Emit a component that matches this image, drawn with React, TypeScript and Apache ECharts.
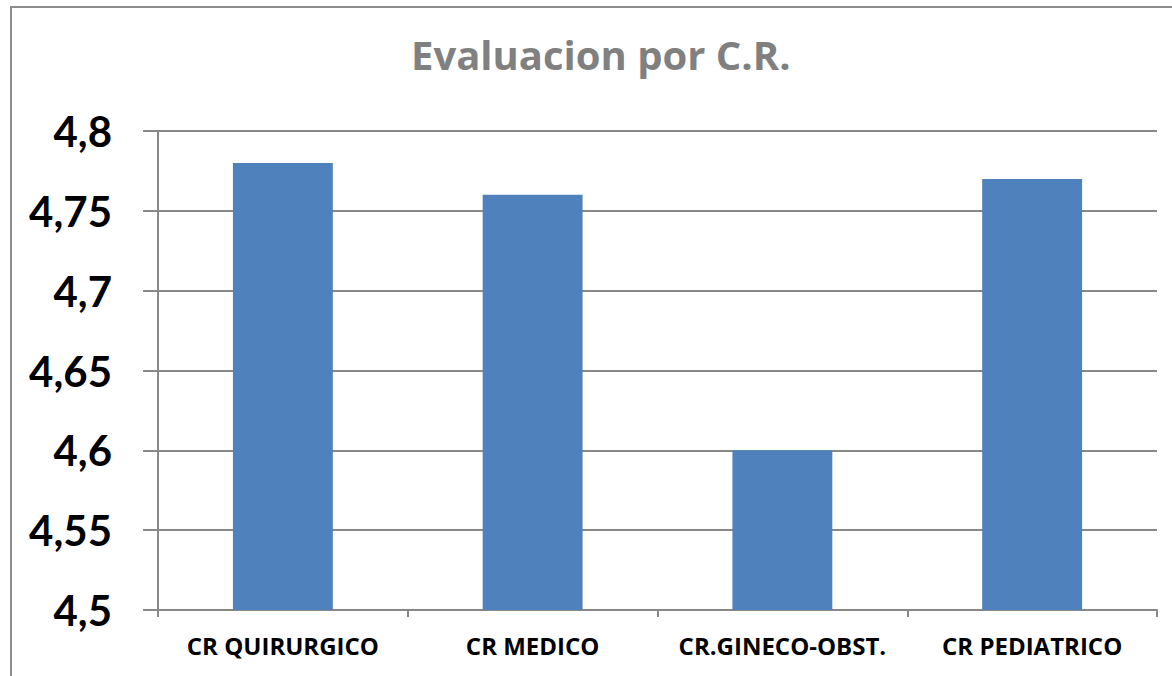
import React, { useEffect, useRef } from "react";
import * as echarts from "echarts";

const categories = ["CR QUIRURGICO", "CR MEDICO", "CR.GINECO-OBST.", "CR PEDIATRICO"];
const values = [4.78, 4.76, 4.6, 4.77];
const titleText = "Evaluacion por C.R.";

export default function App() {
  const ref = useRef<HTMLDivElement>(null);
  useEffect(() => {
    const chart = echarts.init(ref.current!, null, { renderer: "svg" });
    chart.setOption({
      animation: false,
      backgroundColor: "#ffffff",
      title: {
        text: titleText,
        left: 406,
        top: 29,
        textStyle: { fontFamily: "Open Sans", fontWeight: "bold", fontSize: 40, color: "#808080" },
      },
      graphic: [
        {
          type: "rect",
          shape: { x: 11, y: 7, width: 1200, height: 700 },
          style: { fill: "none", stroke: "#8c8c8c", lineWidth: 2 },
          silent: true,
        },
      ],
      grid: { left: 158, right: 15, top: 131, bottom: 66, containLabel: false },
      xAxis: {
        type: "category",
        data: categories,
        axisLine: { lineStyle: { color: "#888888", width: 2 } },
        axisTick: { show: true, length: 7, lineStyle: { color: "#888888", width: 2 } },
        axisLabel: {
          margin: 23,
          fontFamily: "Open Sans",
          fontWeight: "bold",
          fontSize: 24,
          color: "#000000",
          interval: 0,
        },
      },
      yAxis: {
        type: "value",
        min: 4.5,
        max: 4.8,
        interval: 0.05,
        axisLine: { show: true, lineStyle: { color: "#888888", width: 2 } },
        axisTick: { show: true, length: 15, lineStyle: { color: "#888888", width: 2 } },
        splitLine: { lineStyle: { color: "#888888", width: 2 } },
        axisLabel: {
          margin: 46,
          fontFamily: "Lato",
          fontWeight: "bold",
          fontSize: 42,
          color: "#000000",
          formatter: (v: number) => String(Math.round(v * 100) / 100).replace(".", ","),
        },
      },
      series: [
        {
          type: "bar",
          data: values,
          barWidth: "40%",
          itemStyle: { color: "#4F81BD" },
        },
      ],
    });
    return () => chart.dispose();
  }, []);
  return (
    <div
      ref={ref}
      style={{ position: "absolute", left: 0, top: 0, width: 1172, height: 676 }}
    />
  );
}
